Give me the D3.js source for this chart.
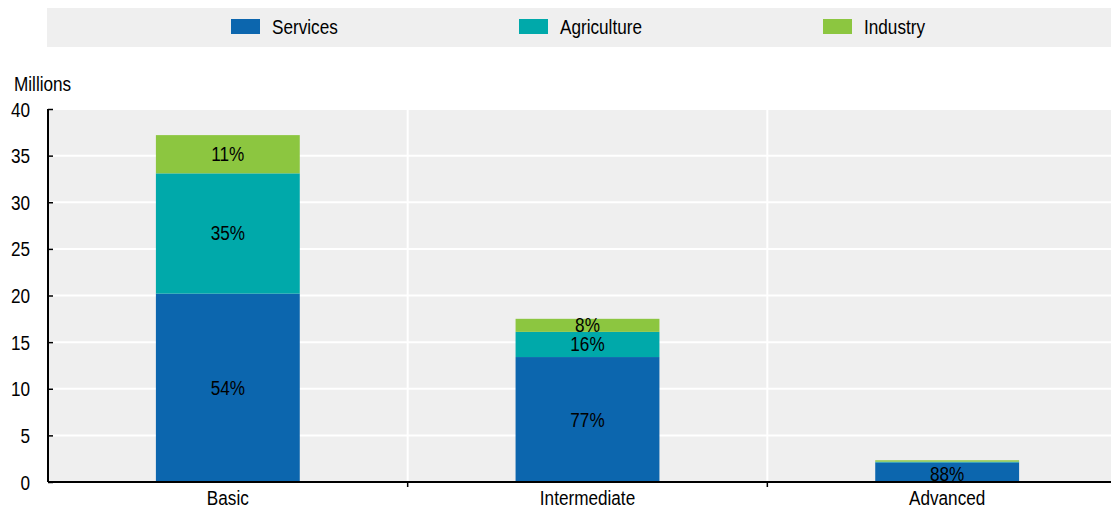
<!DOCTYPE html>
<html><head><meta charset="utf-8">
<script src="https://cdn.jsdelivr.net/npm/d3@7"></script>
<style>
body{margin:0;background:#fff;}
text{font-family:"Liberation Sans",Arial,sans-serif;fill:#000;}
</style></head>
<body><svg id="c" width="1111" height="509"></svg>
<script>
const categories = ["Basic", "Intermediate", "Advanced"];
const seriesNames = ["Services", "Agriculture", "Industry"];
const services = [20.2, 13.4, 2.1];
const agriculture = [12.9, 2.7, 0.08];
const industry = [4.1, 1.4, 0.15];
const servicesPct = ["54%", "77%", "88%"];
const agriculturePct = ["35%", "16%", ""];
const industryPct = ["11%", "8%", ""];
const yTicks = [0, 5, 10, 15, 20, 25, 30, 35, 40];
const colors = ["#0c66ae", "#00a9aa", "#8cc640"];

const SX = 0.88; // condensed look
const svg = d3.select("#c");
const W = 1111, H = 509;
const m = {left: 48, top: 109};
const x = d3.scaleBand().domain(categories).range([m.left, 1127]).paddingInner(0).paddingOuter(0);
const y = d3.scaleLinear().domain([0, 40]).range([482, 109]);

function ctext(sel, px, py) {
  sel.attr("x", 0).attr("y", 0).attr("transform", `translate(${px},${py}) scale(${SX},1)`);
  return sel;
}

// legend
svg.append("rect").attr("x", 47).attr("y", 8).attr("width", W - 47).attr("height", 39).attr("fill", "#efefef");
const legX = [231, 519, 823];
seriesNames.forEach((s, i) => {
  svg.append("rect").attr("x", legX[i]).attr("y", 19).attr("width", 29).attr("height", 15).attr("fill", colors[i]);
  ctext(svg.append("text").attr("font-size", 19.5).text(s), legX[i] + 41, 33.5);
});

// plot bg
svg.append("rect").attr("x", m.left).attr("y", y(40)).attr("width", W - m.left).attr("height", y(0) - y(40)).attr("fill", "#efefef");
// gridlines
svg.append("g").selectAll("line").data(yTicks.filter(d => d > 0)).join("line")
  .attr("x1", m.left).attr("x2", W).attr("y1", d => y(d)).attr("y2", d => y(d))
  .attr("stroke", "#fff").attr("stroke-width", 2);
svg.append("g").selectAll("line").data(categories.slice(1)).join("line")
  .attr("x1", d => x(d)).attr("x2", d => x(d)).attr("y1", y(40)).attr("y2", y(0))
  .attr("stroke", "#fff").attr("stroke-width", 2);

// stacked data
const rows = categories.map((c, i) => ({cat: c, Services: services[i], Agriculture: agriculture[i], Industry: industry[i]}));
const pcts = [servicesPct, agriculturePct, industryPct];
const stack = d3.stack().keys(seriesNames)(rows);
const bw = x.bandwidth() * 0.4;
stack.forEach((layer, li) => {
  const g = svg.append("g");
  g.selectAll("rect").data(layer).join("rect")
    .attr("x", d => x(d.data.cat) + (x.bandwidth() - bw) / 2)
    .attr("width", bw)
    .attr("y", d => y(d[1]))
    .attr("height", d => y(d[0]) - y(d[1]))
    .attr("fill", colors[li]);
  g.selectAll("text").data(layer).join("text")
    .attr("text-anchor", "middle").attr("font-size", 19.5)
    .text((d, i) => pcts[li][i])
    .each(function(d, i) {
      const mid = (y(d[0]) + y(d[1])) / 2;
      const py = (i === 2 && li === 0) ? y(d[0]) - 1 : mid + 7;
      ctext(d3.select(this), x(d.data.cat) + x.bandwidth() / 2, py);
    });
});

// axes
const yAxis = svg.append("g").attr("transform", `translate(${m.left},0)`)
  .call(d3.axisLeft(y).tickValues(yTicks).tickSize(-5).tickPadding(18));
yAxis.select(".domain").attr("stroke", "#000").attr("stroke-width", 2).attr("d", `M0,${y(0)}V${y(40)}`);
yAxis.selectAll(".tick line").attr("stroke", "#000").attr("stroke-width", 1.5);
yAxis.selectAll(".tick text").attr("font-size", 19.5).attr("font-family", null)
  .attr("dy", "0.36em").attr("x", -18 / SX).attr("transform", `scale(${SX},1)`);

ctext(svg.append("text").attr("font-size", 19.5).text("Millions"), 14, 91);

const xAxis = svg.append("g").attr("transform", `translate(0,${y(0)})`)
  .call(d3.axisBottom(x).tickSize(0).tickPadding(9));
xAxis.select(".domain").attr("stroke", "#000").attr("stroke-width", 2).attr("d", `M${m.left},0H${W}`);
xAxis.selectAll(".tick text").attr("font-size", 19.5).attr("font-family", null)
  .attr("dy", "0.71em").attr("transform", `scale(${SX},1)`);
svg.append("g").selectAll("line").data(categories.slice(1)).join("line")
  .attr("x1", d => x(d)).attr("x2", d => x(d)).attr("y1", y(0)).attr("y2", y(0) + 5)
  .attr("stroke", "#000").attr("stroke-width", 1.5);
</script></body></html>
